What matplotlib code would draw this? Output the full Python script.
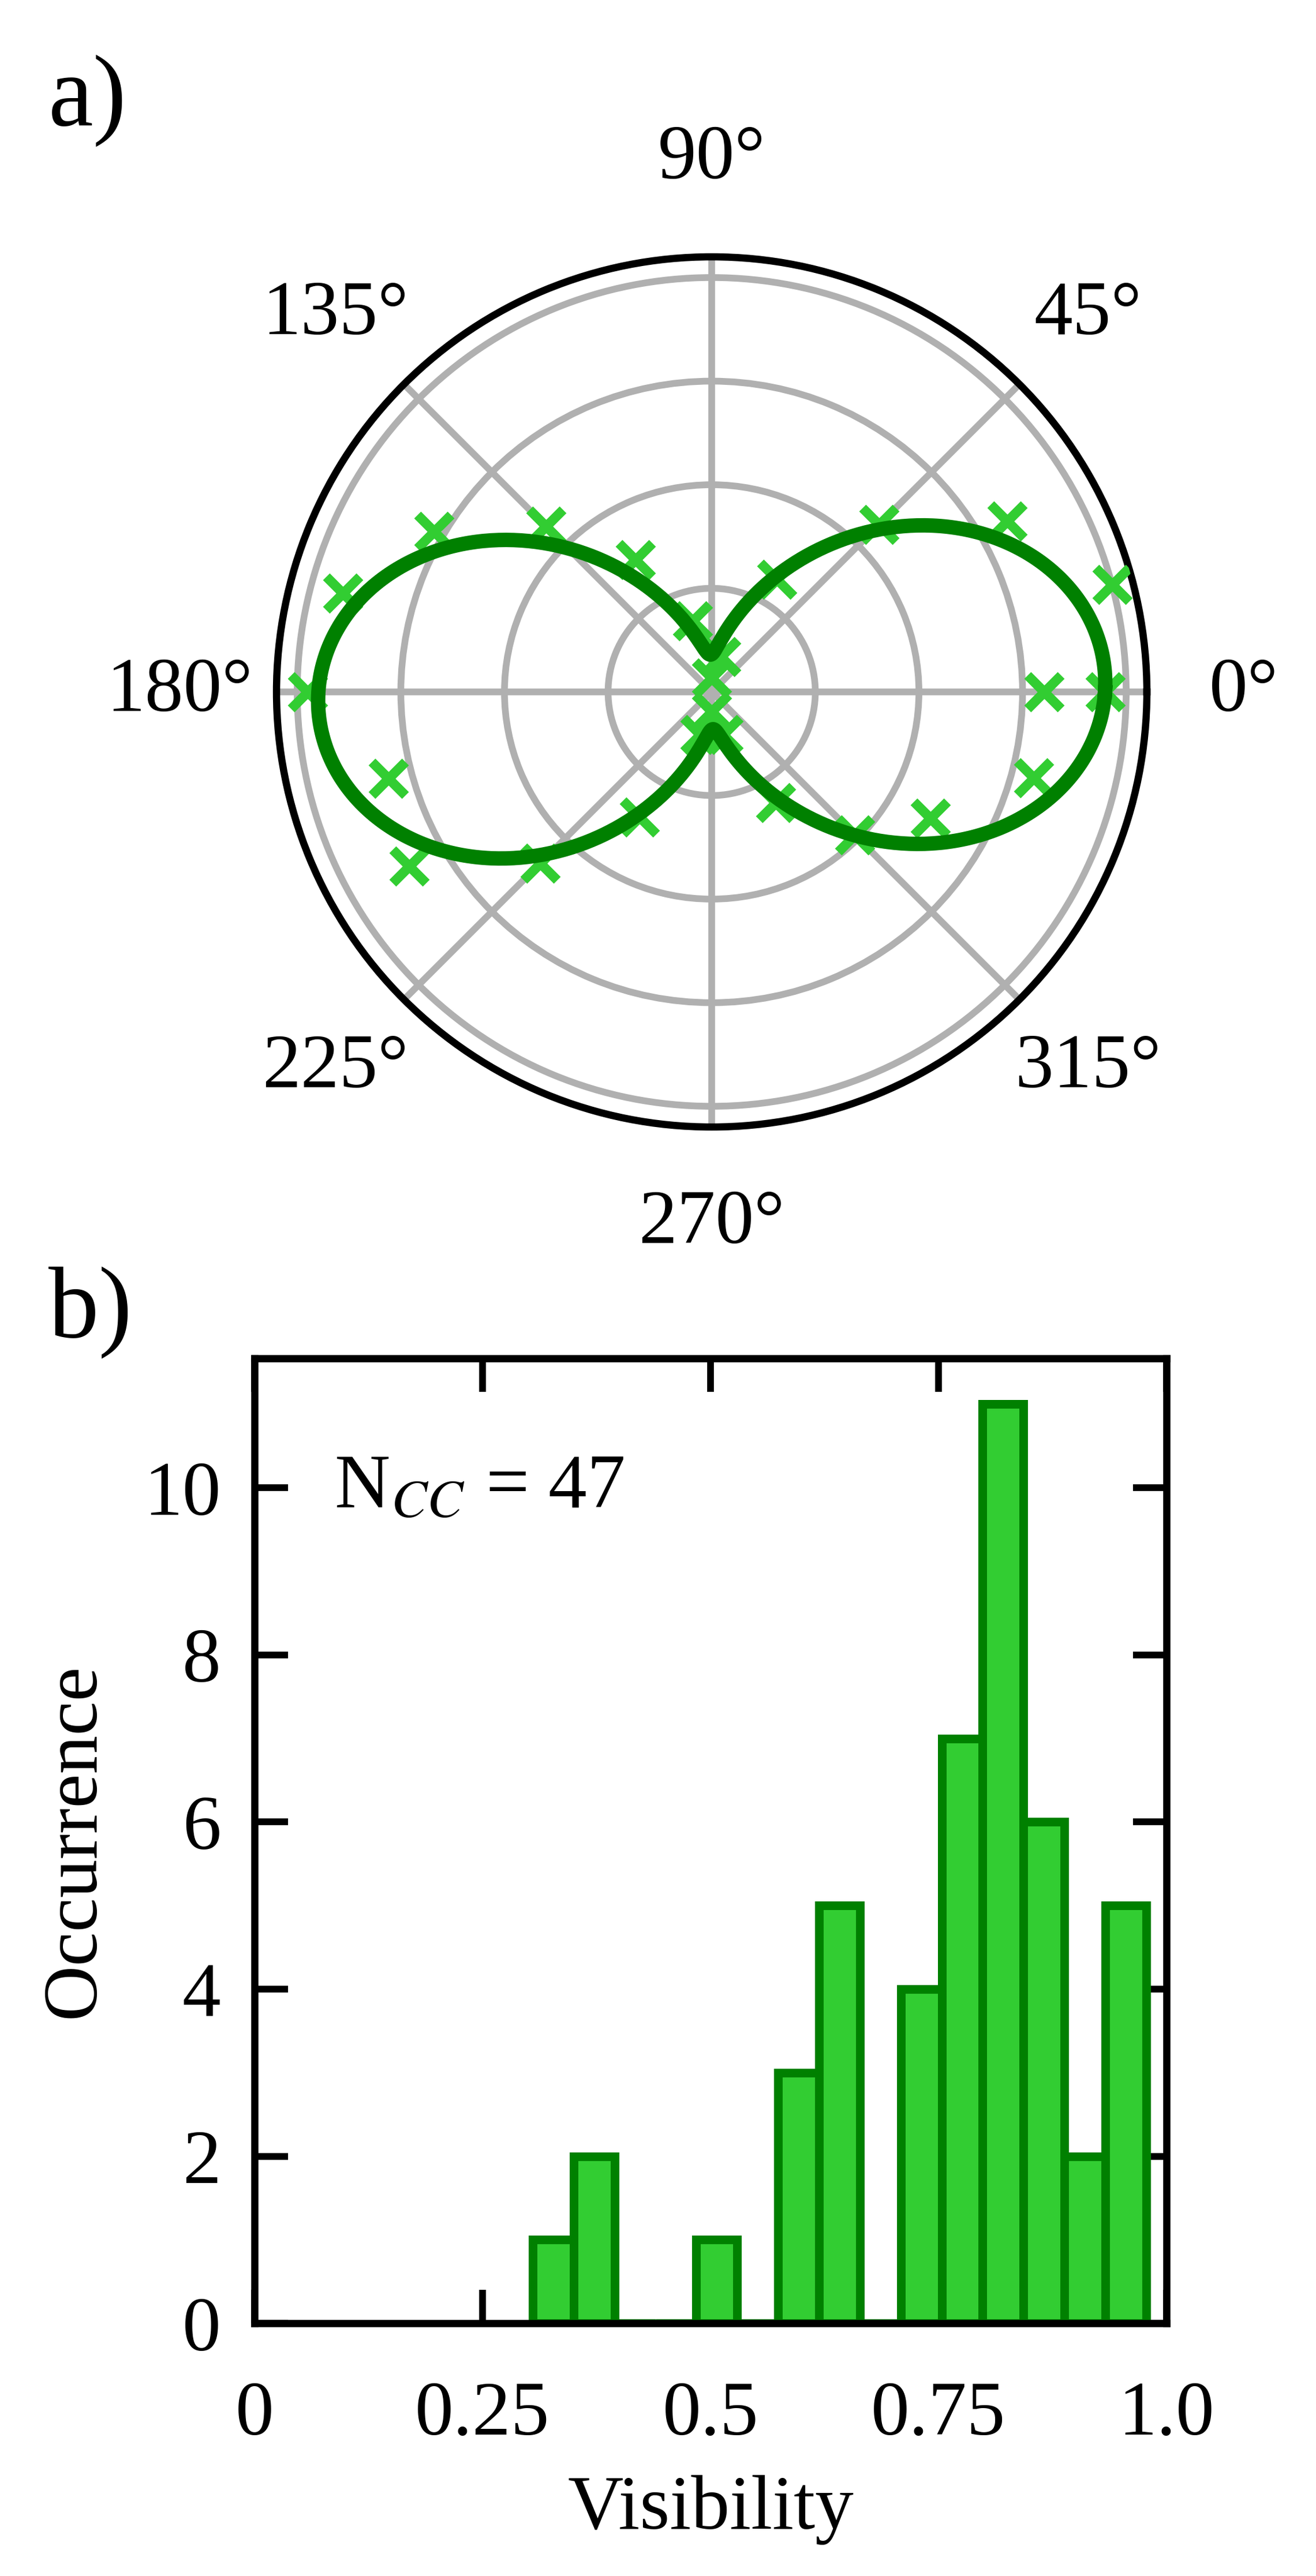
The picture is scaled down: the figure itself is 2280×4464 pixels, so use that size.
import numpy as np
import matplotlib
matplotlib.use("Agg")
import matplotlib.pyplot as plt

plt.rcParams['font.family'] = ['Liberation Serif', 'DejaVu Serif']
plt.rcParams['mathtext.fontset'] = 'stix'

# ---- data: polarisation scan (panel a) ----
angle_deg = [0, 15, 30, 45, 60, 75, 90, 105, 120, 135, 150, 165, 180,
             195, 210, 225, 240, 255, 270, 285, 300, 315, 330, 345, 360]
r_meas = [0.95, 1.00, 0.824, 0.572, 0.314, 0.088, 0.034, 0.178, 0.369,
          0.565, 0.774, 0.922, 0.975, 0.808, 0.842, 0.584, 0.349, 0.107,
          0.048, 0.107, 0.308, 0.488, 0.610, 0.804, 0.802]
# fit: r = A cos^2(theta - phi) + C
fit_A = 0.86
fit_C = 0.09
fit_phi_deg = 2.0
r_ticks = [0.25, 0.5, 0.75, 1.0]
r_max = 1.05

# ---- data: visibility histogram (panel b) ----
bin_edges = [0.305, 0.350, 0.395, 0.440, 0.484, 0.529, 0.574, 0.619,
             0.664, 0.709, 0.754, 0.798, 0.843, 0.888, 0.933, 0.978]
counts = [1, 2, 0, 0, 1, 0, 3, 5, 0, 4, 7, 11, 6, 2, 5]
x_ticks = [0, 0.25, 0.5, 0.75, 1.0]
x_ticklabels = ["0", "0.25", "0.5", "0.75", "1.0"]
y_ticks = [0, 2, 4, 6, 8, 10]
n_cc = 47

W, H = 2280, 4464
fig = plt.figure(figsize=(W / 600, H / 600), dpi=600)

# ---------- panel a ----------
axp = fig.add_axes([0.2101, 0.5625, 0.6614, 0.3378], projection='polar')
th = np.deg2rad(angle_deg)
axp.plot(th, r_meas, linestyle='none', marker='x', color='#32CD32',
         ms=7, mew=2.0, zorder=3)
th_fit = np.linspace(0, 2 * np.pi, 721)
r_fit = fit_A * np.cos(th_fit - np.deg2rad(fit_phi_deg)) ** 2 + fit_C
axp.plot(th_fit, r_fit, color='green', lw=3.0, zorder=4)
axp.set_rlim(0, r_max)
axp.set_rticks(r_ticks)
axp.set_yticklabels([])
axp.grid(True, color='#b0b0b0', lw=1.4)
axp.spines['polar'].set_linewidth(1.5)
axp.tick_params(axis='x', labelsize=16, pad=9.7)
axp.tick_params(axis='y', length=0)

fig.text(0.037, 0.9516, "a)", fontsize=21, ha='left', va='baseline')

# ---------- panel b ----------
axh = fig.add_axes([0.1934, 0.0981, 0.693, 0.3746])
lefts = bin_edges[:-1]
widths = np.diff(bin_edges)
axh.bar(lefts, counts, width=widths, align='edge', color='#32CD32',
        edgecolor='green', linewidth=1.8, zorder=2)
axh.set_xlim(0, 1.0)
axh.set_ylim(0, 11.55)
axh.set_xticks(x_ticks)
axh.set_xticklabels(x_ticklabels)
axh.set_yticks(y_ticks)
axh.tick_params(direction='in', length=7, width=1.4, top=True, right=True,
                labelsize=16)
axh.tick_params(axis='x', pad=12)
axh.tick_params(axis='y', pad=7)
for s in axh.spines.values():
    s.set_linewidth(1.5)
axh.set_xlabel("Visibility", fontsize=16, labelpad=5)
axh.set_ylabel("Occurrence", fontsize=16, labelpad=7)
axh.text(0.0873, 0.846, "N$_{CC}$ = %d" % n_cc, transform=axh.transAxes,
         fontsize=16, ha='left', va='baseline')

fig.text(0.037, 0.4810, "b)", fontsize=21, ha='left', va='baseline')

fig.savefig("out.png", dpi=600)
